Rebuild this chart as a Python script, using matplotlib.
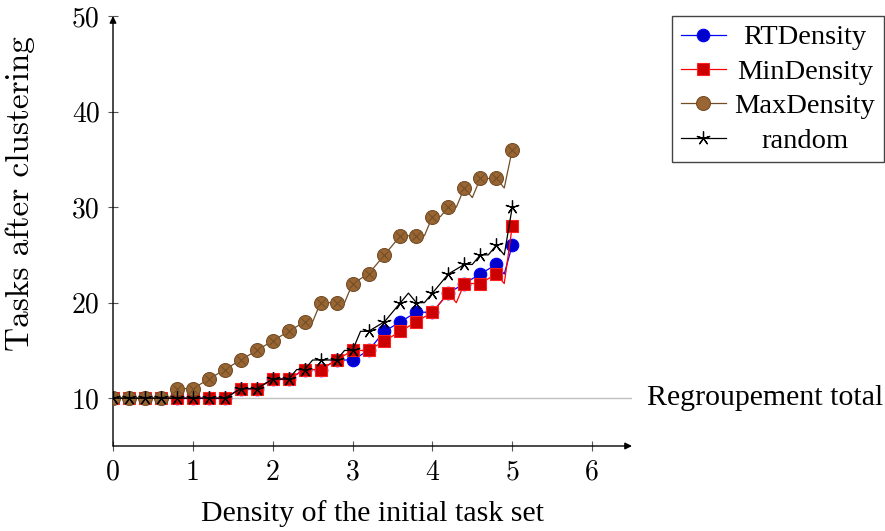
import matplotlib
matplotlib.use("Agg")
import matplotlib.pyplot as plt

# densite (pas de 0.1), marqueurs un point sur deux
density = [0.0, 0.1, 0.2, 0.3, 0.4, 0.5, 0.6, 0.7, 0.8, 0.9,
           1.0, 1.1, 1.2, 1.3, 1.4, 1.5, 1.6, 1.7, 1.8, 1.9,
           2.0, 2.1, 2.2, 2.3, 2.4, 2.5, 2.6, 2.7, 2.8, 2.9,
           3.0, 3.1, 3.2, 3.3, 3.4, 3.5, 3.6, 3.7, 3.8, 3.9,
           4.0, 4.1, 4.2, 4.3, 4.4, 4.5, 4.6, 4.7, 4.8, 4.9, 5.0]

rt_density = [10, 10, 10, 10, 10, 10, 10, 10, 10, 10, 10, 10, 10, 10, 10, 10.5,
              11, 11, 11, 11.5, 12, 12, 12, 12.5, 13, 13, 13, 13.5,
              14, 14, 14, 14.5, 15, 16, 17, 17.5, 18, 18.5, 19, 19,
              19, 20, 21, 21.5, 22, 22.5, 23, 23.5, 24, 23, 26]

min_density = [10, 10, 10, 10, 10, 10, 10, 10, 10, 10, 10, 10, 10, 10, 10, 10.5,
               11, 11, 11, 11.5, 12, 12, 12, 12.5, 13, 13, 13, 13.5,
               14, 14.5, 15, 15, 15, 15.5, 16, 16.5, 17, 17.5, 18, 18.5,
               19, 20, 21, 20, 22, 22, 22, 22.5, 23, 22, 28]

max_density = [10, 10, 10, 10, 10, 10, 10, 10,
               11, 11, 11, 11.5, 12, 12.5, 13, 13.5, 14, 14.5, 15, 15.5,
               16, 16.5, 17, 17.5, 18, 18, 20, 20, 20, 20, 22, 22.5,
               23, 24, 25, 26, 27, 27, 27, 27, 29, 29, 30, 30,
               32, 31, 33, 33, 33, 32, 36]

random_sel = [10, 10, 10, 10, 10, 10, 10, 10, 10, 10, 10, 10, 10, 10, 10, 10.5,
              11, 11, 11, 11.5, 12, 12, 12, 13, 13, 14, 14, 14,
              14, 15, 15, 17, 17, 17.5, 18, 19, 20, 21, 20, 20,
              21, 22, 23, 23.5, 24, 24, 25, 25, 26, 25, 30]

total_level = 10
xticks = [0, 1, 2, 3, 4, 5, 6]
yticks = [10, 20, 30, 40, 50]

serif = ['Liberation Serif', 'DejaVu Serif']
cm = ['cmr10', 'DejaVu Serif']

fig = plt.figure(figsize=(8.85, 5.31), dpi=100)
ax = fig.add_axes([113 / 885, 85 / 531, 519 / 885, 430 / 531])

ax.axhline(total_level, color='#c0c0c0', lw=1.0, zorder=1)

brown = '#734d26'
ax.plot(density, rt_density, color='blue', lw=0.9, marker='o', markevery=2,
        ms=9, mfc='#0000cc', mec='blue', mew=0.8, label='RTDensity', zorder=3)
ax.plot(density, min_density, color='red', lw=0.9, marker='s', markevery=2,
        ms=9, mfc='#cc0000', mec='#ff2020', mew=0.8, label='MinDensity', zorder=4)
ax.plot(density, max_density, color=brown, lw=0.9, marker='o', markevery=2,
        ms=10, mfc='#996633', mec=brown, mew=0.8, label='MaxDensity', zorder=5)
ax.plot(density, max_density, ls='none', marker='x', markevery=2,
        ms=6, mec=brown, mew=0.8, zorder=6)
ax.plot(density, random_sel, color='black', lw=0.9, marker=(5, 2, 0), markevery=2,
        ms=10, mec='black', mew=0.9, label='random', zorder=7)

ax.set_xlim(0, 6.5)
ax.set_ylim(5, 50)
ax.set_xticks(xticks)
ax.set_yticks(yticks)
for s in ['top', 'right', 'left', 'bottom']:
    ax.spines[s].set_visible(False)
ax.tick_params(direction='inout', length=7, width=0.8, color='#555555',
               labelsize=20, pad=6)
for lab in ax.get_xticklabels() + ax.get_yticklabels():
    lab.set_family(cm)

# axes avec fleches
ax.annotate('', xy=(1, 0), xytext=(0, 0), xycoords='axes fraction',
            arrowprops=dict(arrowstyle='-|>', lw=1.0, color='black',
                            mutation_scale=10, shrinkA=0, shrinkB=0))
ax.annotate('', xy=(0, 1), xytext=(0, 0), xycoords='axes fraction',
            arrowprops=dict(arrowstyle='-|>', lw=1.0, color='black',
                            mutation_scale=10, shrinkA=0, shrinkB=0))

ax.set_xlabel('Density of the initial task set', fontsize=21.5, family=serif)
ax.xaxis.set_label_coords(0.5, -0.125)
ax.set_ylabel('Tasks after clustering', fontsize=24, family=cm)
ax.yaxis.set_label_coords(-0.15, 0.587)

ax.annotate('Regroupement total', xy=(1, total_level), xycoords=('axes fraction', 'data'),
            xytext=(11, 0), textcoords='offset points', va='center', ha='left',
            fontsize=21.5, family=serif, annotation_clip=False)

leg = ax.legend(loc='upper left', bbox_to_anchor=(672 / 885, 1 - 16 / 531),
                bbox_transform=fig.transFigure, prop={'family': serif, 'size': 20.5},
                frameon=True, fancybox=False, edgecolor='#444444', framealpha=1,
                borderaxespad=0, handlelength=1.6, labelspacing=0.3,
                borderpad=0.3, handletextpad=0.3)
leg.get_frame().set_linewidth(1.0)

# texte de legende centre
renderer = fig.canvas.get_renderer()
widths = [t.get_window_extent(renderer).width for t in leg.get_texts()]
for t, wi in zip(leg.get_texts(), widths):
    t.set_position(((max(widths) - wi) / 2, 0))

fig.savefig('out.png', dpi=100)
